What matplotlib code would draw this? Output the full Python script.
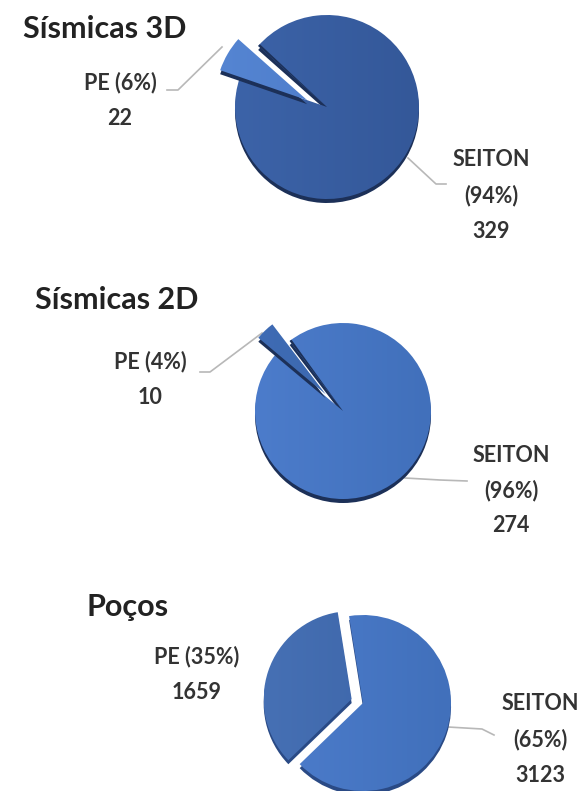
import matplotlib
matplotlib.use("Agg")
import matplotlib.pyplot as plt
import numpy as np
from matplotlib.patches import Wedge
from matplotlib.colors import LinearSegmentedColormap

plt.rcParams['font.family'] = ['Lato', 'DejaVu Sans']

titles = ["Sísmicas 3D", "Sísmicas 2D", "Poços"]
seiton_vals = [329, 274, 3123]
pe_vals = [22, 10, 1659]
seiton_pct = [94, 96, 65]
pe_pct = [6, 4, 35]

W, H = 585, 791
fig = plt.figure(figsize=(W / 100, H / 100), dpi=100)
ax = fig.add_axes([0, 0, 1, 1])
ax.set_xlim(0, W)
ax.set_ylim(H, 0)
ax.axis('off')

# centre x, centre y, radius
centres = [(327, 107, 92), (343, 411, 88), (363, 703, 88)]
pe_starts = [-71, -50, -134]       # degrees clockwise from north
explode = [21, 24, 12]
explode_dir = [-71, -46, -71]
se_cols = [("#3c63a8", "#345899"), ("#4c7ccb", "#4170bb"), ("#4c7ccb", "#4170bb")]
pe_cols = [("#5585d2", "#4a79c8"), ("#3f6cb5", "#3a66ab"), ("#4670b4", "#3b63a6")]
side_cols = ["#1c3058", "#1c3058", "#2a4a85"]
notch_line = [True, True, False]


def wedge_grad(cx, cy, r, a0, a1, cols, z):
    w = Wedge((cx, cy), r, a0, a1, fc='none', ec='none', zorder=z)
    ax.add_patch(w)
    cmap = LinearSegmentedColormap.from_list("g", cols)
    im = ax.imshow(np.linspace(0, 1, 64).reshape(1, -1), cmap=cmap, aspect='auto',
                   extent=(cx - r, cx + r, cy + r, cy - r), zorder=z)
    im.set_clip_path(w)


for i, (cx, cy, r) in enumerate(centres):
    sweep = 360 * pe_vals[i] / (pe_vals[i] + seiton_vals[i])
    a0 = pe_starts[i] - 90
    a1 = a0 + sweep
    d = np.radians(explode_dir[i] - 90)
    px, py = cx + explode[i] * np.cos(d), cy + explode[i] * np.sin(d)

    # dark lower rim, then the pie body
    ax.add_patch(Wedge((cx, cy + 4), r, a1, a0 + 360, fc=side_cols[i], ec='none', zorder=1))
    wedge_grad(cx, cy, r, a1, a0 + 360, se_cols[i], 2)
    if notch_line[i]:
        ax.add_patch(Wedge((cx, cy), r, a1, a1 + 1.5, fc=side_cols[i], ec='none', zorder=2.5))
    # exploded PE slice with its rim
    ax.add_patch(Wedge((px, py + 4), r, a0, a1, fc=side_cols[i], ec='none', zorder=3))
    wedge_grad(px, py, r, a0, a1, pe_cols[i], 4)

ax.set_xlim(0, W)
ax.set_ylim(H, 0)

title_pos = [(105, 29), (117, 300), (128, 607)]
for t, (x, y) in zip(titles, title_pos):
    ax.text(x, y, t, fontsize=22, fontweight='bold', ha='center', va='center', color='#222222')

pe_pos = [(120, 83), (150, 362), (197, 657)]
se_pos = [(491, 160), (511, 455), (540, 704)]
line_gap = 35.5
for i in range(3):
    x, y = pe_pos[i]
    for k, s in enumerate([f"PE ({pe_pct[i]}%)", f"{pe_vals[i]}"]):
        ax.text(x, y + k * line_gap, s, fontsize=15.5, fontweight='bold',
                ha='center', va='center', color='#333333')
    x, y = se_pos[i]
    for k, s in enumerate(["SEITON", f"({seiton_pct[i]}%)", f"{seiton_vals[i]}"]):
        ax.text(x, y + k * line_gap, s, fontsize=15.5, fontweight='bold',
                ha='center', va='center', color='#333333')

leaders = [
    ([167, 178, 222], [90, 90, 47]),
    ([200, 210, 262], [372, 372, 333]),
    ([408, 436, 446], [158, 184, 184]),
    ([405, 440, 467], [478, 480, 481]),
    ([448, 482, 494], [727, 729, 735]),
]
for xs, ys in leaders:
    ax.plot(xs, ys, color='#b8b8b8', lw=1.2, zorder=0)

fig.savefig("out.png", dpi=100)
